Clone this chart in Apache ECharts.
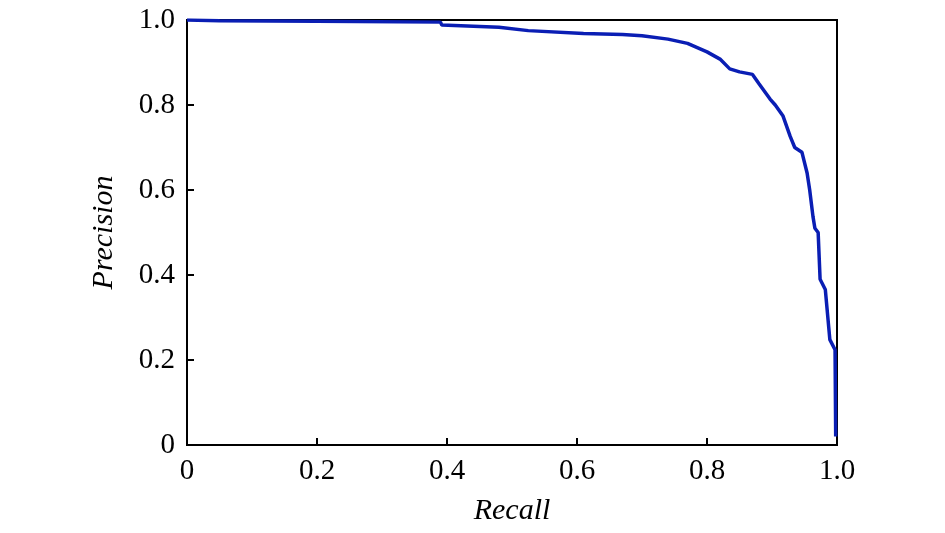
<!DOCTYPE html>
<html><head><meta charset="utf-8">
<script src="https://cdn.jsdelivr.net/npm/echarts@6/dist/echarts.min.js"></script>
<style>html,body{margin:0;padding:0;background:#fff}#c{width:945px;height:533px}</style>
</head><body><div id="c"></div>
<script>
const recall = [0,0.05,0.2,0.39,0.392,0.48,0.525,0.61,0.67,0.7,0.74,0.77,0.8,0.82,0.835,0.85,0.87,0.88,0.897,0.905,0.917,0.928,0.935,0.946,0.954,0.958,0.963,0.966,0.971,0.974,0.982,0.989,0.997,0.998];
const precision = [1.0,0.998,0.997,0.995,0.988,0.983,0.975,0.968,0.966,0.963,0.955,0.945,0.925,0.908,0.885,0.878,0.872,0.85,0.814,0.80,0.774,0.726,0.70,0.689,0.64,0.60,0.538,0.51,0.50,0.39,0.366,0.248,0.224,0.02];
const xTicks = ['0','0.2','0.4','0.6','0.8','1.0'];
const yTicks = ['0','0.2','0.4','0.6','0.8','1.0'];
const font = '"Liberation Serif","Times New Roman",serif';
const chart = echarts.init(document.getElementById('c'));
const fmt = v => v === 0 ? '0' : v.toFixed(1);
chart.setOption({
  animation:false,
  grid:{left:187,right:108,top:20,bottom:88,show:true,borderColor:'#000',borderWidth:2,backgroundColor:'transparent'},
  xAxis:{type:'value',min:0,max:1,interval:0.2,name:'Recall',nameLocation:'middle',nameGap:51,
    nameTextStyle:{fontFamily:font,fontSize:30,fontStyle:'italic',color:'#000'},
    axisLine:{lineStyle:{color:'#000',width:2}},
    axisTick:{inside:true,length:7,lineStyle:{color:'#000',width:2}},
    axisLabel:{fontFamily:font,fontSize:29,color:'#000',margin:12,formatter:fmt},
    splitLine:{show:false}},
  yAxis:{type:'value',min:0,max:1,interval:0.2,name:'Precision',nameLocation:'middle',nameGap:68,
    nameTextStyle:{fontFamily:font,fontSize:30,fontStyle:'italic',color:'#000'},
    axisLine:{show:true,lineStyle:{color:'#000',width:2}},
    axisTick:{show:true,inside:true,length:7,lineStyle:{color:'#000',width:2}},
    axisLabel:{fontFamily:font,fontSize:29,color:'#000',margin:12,formatter:fmt},
    splitLine:{show:false}},
  series:[{type:'line',data:recall.map((r,i)=>[r,precision[i]]),showSymbol:false,
    lineStyle:{color:'#0a1eb4',width:3.5},itemStyle:{color:'#0a1eb4'}}]
});
</script></body></html>
